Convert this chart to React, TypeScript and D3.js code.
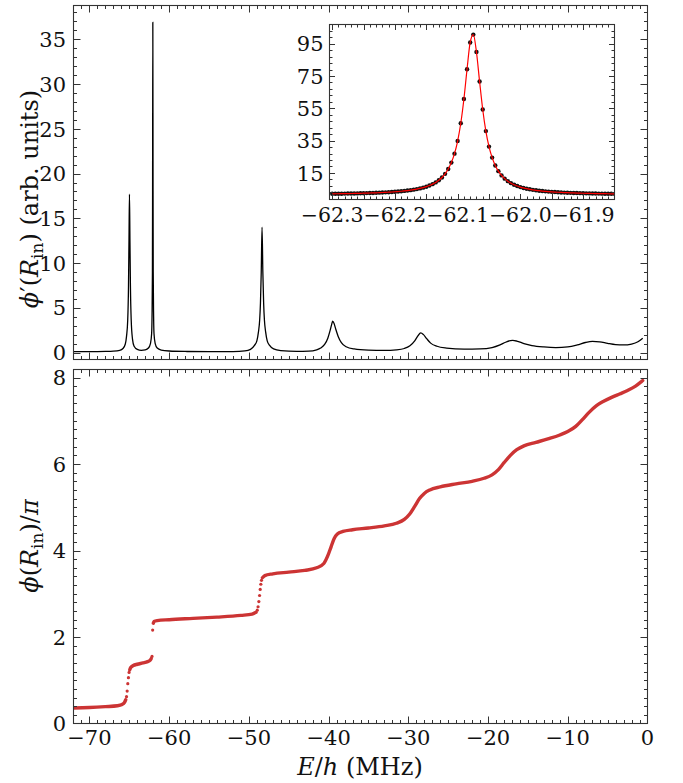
import React, { useEffect, useRef } from "react";
import * as d3 from "d3";

const W = 683;
const H = 783;
const FONT = "DejaVu Serif";

// ---- Top panel: phi'(R_in) vs E/h (MHz) ----
const topE = [
  -72.0, -70.0, -68.0, -67.0, -66.2, -65.8, -65.5, -65.35, -65.2, -65.1, -65.04, -64.98, -64.92, -64.86, -64.76, -64.6, -64.4, -64.0,
  -63.5, -63.0, -62.6, -62.35, -62.2, -62.15, -62.1, -62.08, -62.05, -62.02, -62.0, -61.95, -61.9, -61.75, -61.5, -61.0, -60.0,
  -58.0, -55.0, -52.0, -50.5, -49.8, -49.3, -49.0, -48.8, -48.65, -48.55, -48.45, -48.35, -48.25, -48.15, -48.05, -47.9, -47.7,
  -47.4, -46.9, -46.0, -44.0, -42.5, -41.5, -41.0, -40.5, -40.1, -39.8, -39.6, -39.49, -39.3, -39.1, -38.8, -38.4, -37.8, -36.8,
  -35.0, -33.0, -31.5, -30.5, -29.8, -29.2, -28.8, -28.45, -28.1, -27.7, -27.2, -26.4, -25.2, -23.0, -21.0, -19.5, -18.5, -17.8,
  -17.2, -16.9, -16.4, -15.5, -14.5, -13.0, -11.5, -10.0, -8.8, -7.8, -6.9, -6.0, -5.0, -4.0, -3.0, -2.0, -1.2, -0.6,
];
const topV = [
  0.1, 0.1, 0.12, 0.15, 0.25, 0.45, 0.95, 1.8, 3.6, 7.5, 12.5, 17.7, 12.5, 7.5, 3.6, 1.5, 0.7, 0.35,
  0.25, 0.3, 0.5, 1.0, 2.1, 4.0, 9.0, 18.0, 36.9, 18.0, 9.0, 4.0, 2.1, 1.0, 0.5, 0.28, 0.17,
  0.12, 0.1, 0.11, 0.18, 0.35, 0.8, 1.3, 2.3, 3.6, 5.5, 9.0, 14.0, 9.0, 5.5, 3.6, 2.3, 1.3,
  0.8, 0.4, 0.22, 0.13, 0.15, 0.3, 0.5, 0.9, 1.6, 2.5, 3.2, 3.5, 3.2, 2.6, 1.8, 1.1, 0.65, 0.4,
  0.27, 0.24, 0.3, 0.45, 0.75, 1.3, 1.85, 2.2, 2.0, 1.55, 1.05, 0.7, 0.5, 0.38, 0.4, 0.55, 0.85, 1.15,
  1.32, 1.35, 1.28, 1.0, 0.78, 0.62, 0.55, 0.62, 0.85, 1.12, 1.25, 1.2, 1.02, 0.88, 0.85, 0.95, 1.2, 1.6,
];

// ---- Inset: zoom on the resonance near -62.08 MHz ----
const insetE0 = -62.3;
const insetStep = 0.005;
const insetV = [
  2.07, 2.1, 2.12, 2.15, 2.19, 2.22, 2.26, 2.3, 2.34, 2.39, 2.44, 2.5, 2.56, 2.62, 2.7, 2.78, 2.87, 2.97, 3.08, 3.2,
  3.34, 3.49, 3.66, 3.86, 4.09, 4.35, 4.65, 5.0, 5.42, 5.9, 6.49, 7.2, 8.06, 9.13, 10.47, 12.19, 14.42, 17.39, 21.4, 26.95,
  34.74, 45.74, 60.8, 79.2, 95.8, 100.65, 89.9, 71.6, 54.3, 40.9, 31.3, 24.5, 19.64, 16.1, 13.46, 11.45, 9.9, 8.67, 7.69, 6.9,
  6.24, 5.7, 5.24, 4.86, 4.53, 4.24, 3.99, 3.78, 3.59, 3.43, 3.28, 3.15, 3.03, 2.93, 2.83, 2.75, 2.67, 2.6, 2.53, 2.47,
  2.42, 2.37, 2.32, 2.28, 2.24, 2.21, 2.17, 2.14, 2.11, 2.09, 2.06,
];

// ---- Bottom panel: phi(R_in)/pi vs E/h ----
const segA: [number, number][] = [
  [-72.0, 0.36], [-70.0, 0.37], [-68.0, 0.39], [-66.5, 0.41], [-65.9, 0.44], [-65.6, 0.49], [-65.45, 0.55],
];
const segB: [number, number][] = [
  [-64.95, 1.24], [-64.8, 1.3], [-64.5, 1.34], [-64.0, 1.37], [-63.3, 1.4], [-62.7, 1.43], [-62.4, 1.46], [-62.25, 1.5],
];
const segC: [number, number][] = [
  [-61.99, 2.32], [-61.9, 2.36], [-61.5, 2.38], [-60.0, 2.4], [-57.0, 2.43], [-54.0, 2.46], [-51.0, 2.5], [-49.6, 2.53], [-49.1, 2.57],
];
const segD: [number, number][] = [
  [-48.3, 3.37], [-48.0, 3.42], [-47.0, 3.46], [-45.0, 3.5], [-43.0, 3.54], [-41.5, 3.6], [-40.6, 3.7], [-40.1, 3.88],
  [-39.7, 4.08], [-39.3, 4.28], [-38.9, 4.38], [-38.2, 4.44], [-37.0, 4.48], [-35.0, 4.52], [-33.0, 4.57], [-31.5, 4.63],
  [-30.5, 4.72], [-29.8, 4.85], [-29.2, 5.02], [-28.6, 5.2], [-28.0, 5.32], [-27.3, 5.4], [-26.0, 5.47], [-24.0, 5.54],
  [-22.0, 5.6], [-20.5, 5.67], [-19.5, 5.75], [-18.7, 5.87], [-18.0, 6.03], [-17.2, 6.2], [-16.4, 6.33], [-15.5, 6.42],
  [-14.0, 6.5], [-12.5, 6.58], [-11.0, 6.67], [-10.0, 6.75], [-9.0, 6.87], [-8.2, 7.02], [-7.3, 7.2], [-6.4, 7.35],
  [-5.5, 7.45], [-4.5, 7.54], [-3.5, 7.62], [-2.5, 7.7], [-1.5, 7.8], [-0.8, 7.9], [-0.6, 7.93],
];
const stepDots: [number, number][] = [
  [-65.35, 0.62], [-65.27, 0.75], [-65.19, 0.92], [-65.11, 1.06], [-65.03, 1.18],
  [-62.15, 1.55], [-62.07, 2.16],
  [-48.95, 2.62], [-48.85, 2.7], [-48.75, 2.82], [-48.66, 2.96], [-48.58, 3.1], [-48.5, 3.22], [-48.42, 3.31],
];

const xTickVals = [-70, -60, -50, -40, -30, -20, -10, 0];
const topYTickVals = [0, 5, 10, 15, 20, 25, 30, 35];
const botYTickVals = [0, 2, 4, 6, 8];
const insetXLabelVals = [-62.3, -62.2, -62.1, -62.0, -61.9];
const insetYTickVals = [15, 35, 55, 75, 95];

const AX = "#333";
const RED = "#cc3434";
const TICK_FS = 21;
const INSET_FS = 20.5;
const LAB_FS = 24;

function range(a: number, b: number, s: number) {
  const out: number[] = [];
  const n = Math.round((b - a) / s);
  for (let i = 0; i <= n; i++) out.push(+(a + i * s).toFixed(6));
  return out;
}

type Lin = d3.ScaleLinear<number, number>;

function frameTicks(
  g: d3.Selection<SVGGElement, unknown, null, undefined>,
  x: Lin,
  y: Lin,
  xMaj: number[],
  xMin: number[],
  yMaj: number[],
  yMin: number[],
  majL: number,
  minL: number
) {
  const [x0, x1] = x.range();
  const [y0, y1] = y.range();
  const inX = (v: number) => { const p = x(v); return p > x0 + 0.5 && p < x1 - 0.5; };
  const inY = (v: number) => { const p = y(v); return p < y0 - 0.5 && p > y1 + 0.5; };
  const ln = (xa: number, ya: number, xb: number, yb: number) =>
    g.append("line").attr("x1", xa).attr("y1", ya).attr("x2", xb).attr("y2", yb)
      .attr("stroke", AX).attr("stroke-width", 1);
  const rx = (v: number) => Math.round(x(v)) + 0.5;
  const ry = (v: number) => Math.round(y(v)) + 0.5;
  xMin.filter(inX).forEach(v => { ln(rx(v), y0, rx(v), y0 - minL); ln(rx(v), y1, rx(v), y1 + minL); });
  xMaj.filter(inX).forEach(v => { ln(rx(v), y0, rx(v), y0 - majL); ln(rx(v), y1, rx(v), y1 + majL); });
  yMin.filter(inY).forEach(v => { ln(x0, ry(v), x0 + minL, ry(v)); ln(x1, ry(v), x1 - minL, ry(v)); });
  yMaj.filter(inY).forEach(v => { ln(x0, ry(v), x0 + majL, ry(v)); ln(x1, ry(v), x1 - majL, ry(v)); });
  g.append("rect").attr("x", x0).attr("y", y1).attr("width", x1 - x0).attr("height", y0 - y1)
    .attr("fill", "none").attr("stroke", AX).attr("stroke-width", 1.1);
}

export default function App() {
  const ref = useRef<SVGSVGElement>(null);
  useEffect(() => {
    const svg = d3.select(ref.current!);
    svg.selectAll("*").remove();
    svg.append("rect").attr("width", W).attr("height", H).attr("fill", "white");

    const x = d3.scaleLinear().domain([-72, 0]).range([73.5, 647.5]);
    const yTop = d3.scaleLinear().domain([-0.78, 38.78]).range([359.5, 5.5]);
    const yBot = d3.scaleLinear().domain([0, 8.185]).range([723.5, 369.5]);
    const xIn = d3.scaleLinear().domain([-62.3043, -61.8499]).range([329.5, 614.5]);
    const yIn = d3.scaleLinear().domain([-1.45, 106.9]).range([199.5, 24.5]);

    const defs = svg.append("defs");
    const clip = (id: string, xs: Lin, ys: Lin) => {
      const [a, b] = xs.range();
      const [c, d] = ys.range();
      defs.append("clipPath").attr("id", id).append("rect")
        .attr("x", a).attr("y", d).attr("width", b - a).attr("height", c - d);
    };
    clip("cTop", x, yTop);
    clip("cBot", x, yBot);
    clip("cIn", xIn, yIn);

    const txt = (xx: number, yy: number, s: string, anchor: string, fs = TICK_FS) =>
      svg.append("text").attr("x", xx).attr("y", yy).attr("text-anchor", anchor)
        .style("font-family", FONT).style("font-size", fs + "px").attr("fill", "#111").text(s);

    // ---- top panel ----
    const topData = topE.map((e, i) => [e, topV[i]] as [number, number]);
    const lineTop = d3.line<[number, number]>().x(d => x(d[0])).y(d => yTop(d[1])).curve(d3.curveMonotoneX);
    svg.append("path").attr("d", lineTop(topData)!).attr("fill", "none").attr("stroke", "black")
      .attr("stroke-width", 1.3).attr("clip-path", "url(#cTop)");

    const gTop = svg.append("g");
    frameTicks(gTop, x, yTop, xTickVals, range(-72, 0, 1), topYTickVals, range(0, 38, 1), 7, 3.5);
    topYTickVals.forEach(v => txt(66, yTop(v) + 7.7, String(v), "end"));

    // ---- inset ----
    svg.append("rect").attr("x", 329.5).attr("y", 24.5).attr("width", 285).attr("height", 175).attr("fill", "white");
    const inData = insetV.map((v, i) => [insetE0 + i * insetStep, v] as [number, number]);
    const gIn = svg.append("g").attr("clip-path", "url(#cIn)");
    gIn.selectAll("circle").data(inData).enter().append("circle")
      .attr("cx", d => xIn(d[0])).attr("cy", d => yIn(d[1])).attr("r", 2.2).attr("fill", "#111");
    const lineIn = d3.line<[number, number]>().x(d => xIn(d[0])).y(d => yIn(d[1])).curve(d3.curveMonotoneX);
    gIn.append("path").attr("d", lineIn(inData)!).attr("fill", "none").attr("stroke", "#ff0000").attr("stroke-width", 1.2);
    const gInAx = svg.append("g");
    frameTicks(gInAx, xIn, yIn, range(-62.3, -61.85, 0.05), range(-62.3, -61.85, 0.01), insetYTickVals, range(-1, 107, 4), 5.5, 3);
    const fmt1 = d3.format(".1f");
    insetXLabelVals.forEach(v => txt(xIn(v), 221.5, fmt1(v), "middle", INSET_FS));
    insetYTickVals.forEach(v => txt(323.5, yIn(v) + 7.7, String(v), "end"));

    // ---- bottom panel ----
    const gB = svg.append("g").attr("clip-path", "url(#cBot)");
    const lineB = d3.line<[number, number]>().x(d => x(d[0])).y(d => yBot(d[1])).curve(d3.curveMonotoneX);
    [segA, segB, segC, segD].forEach(seg => {
      gB.append("path").attr("d", lineB(seg)!).attr("fill", "none").attr("stroke", RED)
        .attr("stroke-width", 3.4).attr("stroke-linecap", "round").attr("stroke-linejoin", "round");
    });
    gB.selectAll("circle.st").data(stepDots).enter().append("circle")
      .attr("cx", d => x(d[0])).attr("cy", d => yBot(d[1])).attr("r", 1.6).attr("fill", RED);

    const gBAx = svg.append("g");
    frameTicks(gBAx, x, yBot, xTickVals, range(-72, 0, 1), botYTickVals, range(0, 8.2, 0.2), 7, 3.5);
    botYTickVals.forEach(v => txt(66, yBot(v) + 7.7, String(v), "end"));
    const fmt0 = d3.format("d");
    xTickVals.forEach(v => txt(x(v), 745, fmt0(v), "middle"));

    // ---- axis labels ----
    const label = (tr: string | null, xx: number, yy: number) => {
      const t = svg.append("text").attr("text-anchor", "middle")
        .style("font-family", FONT).style("font-size", LAB_FS + "px").attr("fill", "#111");
      if (tr) t.attr("transform", tr); else t.attr("x", xx).attr("y", yy);
      return t;
    };
    const lab1 = label("translate(38,199) rotate(-90)", 0, 0);
    lab1.append("tspan").style("font-style", "italic").text("ϕ");
    lab1.append("tspan").text("′(");
    lab1.append("tspan").style("font-style", "italic").text("R");
    lab1.append("tspan").style("font-size", "17px").attr("dy", 5).text("in");
    lab1.append("tspan").attr("dy", -5).text(") (arb. units)");

    const lab2 = label("translate(38,546) rotate(-90)", 0, 0);
    lab2.append("tspan").style("font-style", "italic").text("ϕ");
    lab2.append("tspan").text("(");
    lab2.append("tspan").style("font-style", "italic").text("R");
    lab2.append("tspan").style("font-size", "17px").attr("dy", 5).text("in");
    lab2.append("tspan").attr("dy", -5).text(")/");
    lab2.append("tspan").style("font-style", "italic").text("π");

    const lab3 = label(null, 360, 775);
    lab3.append("tspan").style("font-style", "italic").text("E");
    lab3.append("tspan").text("/");
    lab3.append("tspan").style("font-style", "italic").text("h");
    lab3.append("tspan").text(" (MHz)");
  }, []);
  return (
    <svg ref={ref} width={W} height={H}
      style={{ position: "absolute", left: 0, top: 0, display: "block" }} />
  );
}
